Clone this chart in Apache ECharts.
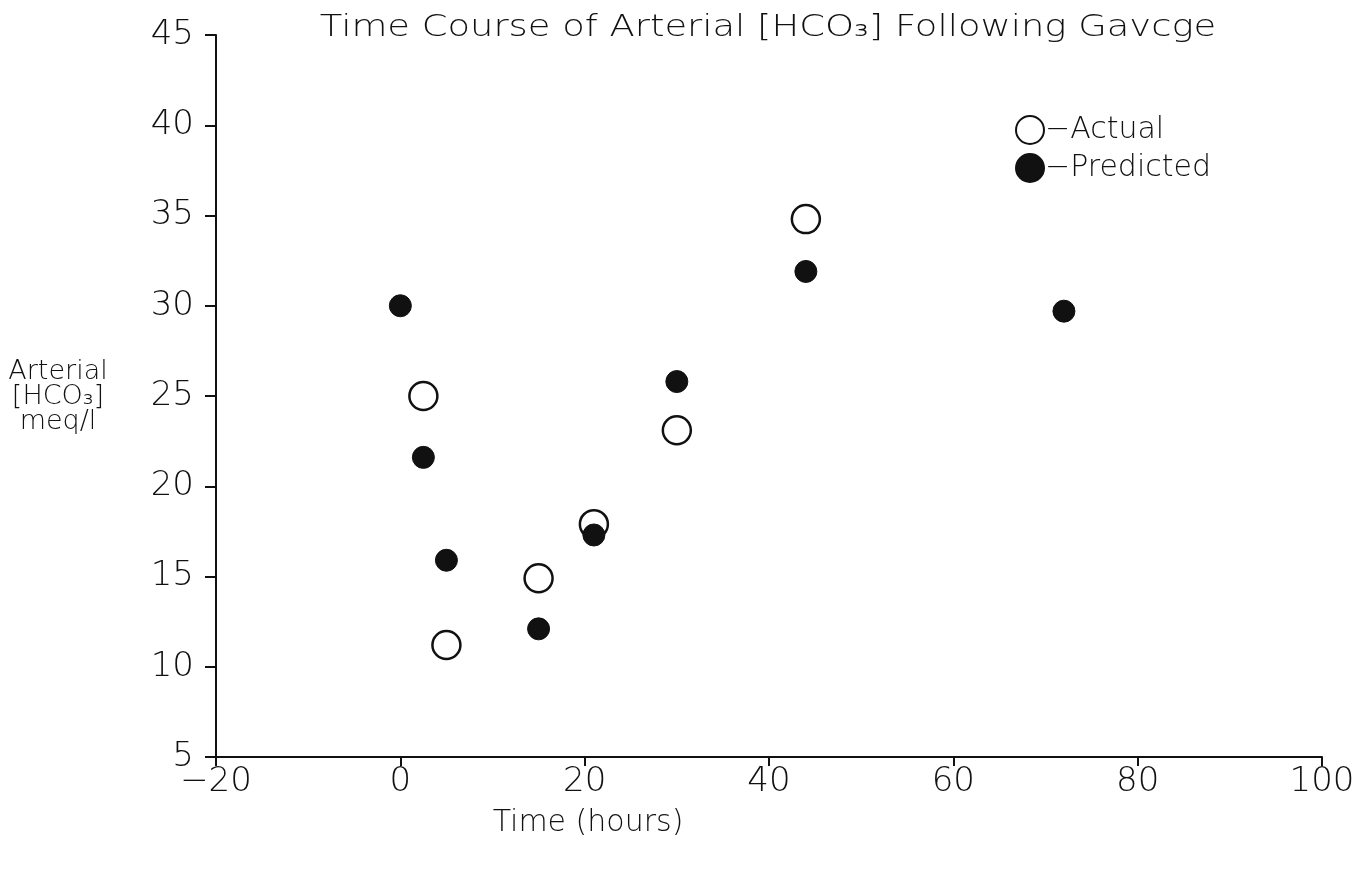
<!DOCTYPE html>
<html>
<head>
<meta charset="utf-8">
<script src="https://cdn.jsdelivr.net/npm/echarts@6/dist/echarts.min.js"></script>
<style>
  html, body { margin: 0; padding: 0; background: #fff; }
  #chart { width: 1371px; height: 871px; }
</style>
</head>
<body>
<div id="chart"></div>
<script>
// values
var timeActual = [2.5, 5, 15, 21, 30, 44];
var hco3Actual = [25, 11.2, 14.9, 17.9, 23.1, 34.8];
var timePredicted = [0, 2.5, 5, 15, 21, 30, 44, 72];
var hco3Predicted = [30, 21.6, 15.9, 12.1, 17.3, 25.8, 31.9, 29.7];

var font = 'DejaVu Sans';
var ink = '#111';

function pairs(xs, ys) {
    return xs.map(function(x, i) { return [x, ys[i]]; });
}

var chart = echarts.init(document.getElementById('chart'));
var lineStyle = { color: ink, width: 2 };

chart.setOption({
    animation: false,
    backgroundColor: '#fff',
    grid: { left: 216, right: 49, top: 35, bottom: 114 },
    legend: {
        orient: 'vertical',
        left: 1010, top: 110,
        itemWidth: 28, itemHeight: 28, itemGap: 8,
        formatter: function(name) { return '−' + name; },
        textStyle: { fontFamily: font, fontWeight: 200, fontSize: 30, color: ink, padding: [0, 0, 0, -4] },
        data: ['Actual', 'Predicted']
    },
    xAxis: {
        type: 'value', min: -20, max: 100, interval: 20,
        splitLine: { show: false },
        axisLine: { onZero: false, lineStyle: lineStyle },
        axisTick: { length: 9, lineStyle: lineStyle },
        axisLabel: { margin: 8, fontFamily: font, fontWeight: 200, fontSize: 34, color: ink,
            formatter: function(v) { return v < 0 ? '−' + (-v) : v; } }
    },
    yAxis: {
        type: 'value', min: 5, max: 45, interval: 5,
        splitLine: { show: false },
        axisLine: { onZero: false, lineStyle: lineStyle },
        axisTick: { length: 11, lineStyle: lineStyle },
        axisLabel: { margin: 22, fontFamily: font, fontWeight: 200, fontSize: 34, color: ink }
    },
    graphic: [
        {
            type: 'text', x: 768, y: 28, scaleX: 1.19,
            style: {
                text: 'Time Course of Arterial [HCO₃] Following Gavcge',
                align: 'center', verticalAlign: 'middle',
                fontFamily: font, fontWeight: 200, fontSize: 31, fill: ink
            }
        },
        {
            type: 'text', x: 58, y: 359,
            style: {
                text: 'Arterial\n[HCO₃]\nmeq/l',
                align: 'center', verticalAlign: 'top',
                fontFamily: font, fontWeight: 200, fontSize: 27, lineHeight: 25, fill: ink
            }
        },
        {
            type: 'text', x: 588, y: 823,
            style: {
                text: 'Time (hours)',
                align: 'center', verticalAlign: 'middle',
                fontFamily: font, fontWeight: 200, fontSize: 30, fill: ink
            }
        }
    ],
    series: [
        {
            name: 'Actual',
            type: 'scatter',
            symbol: 'circle',
            symbolSize: 28,
            itemStyle: { color: '#fff', borderColor: ink, borderWidth: 2.5, opacity: 1 },
            data: pairs(timeActual, hco3Actual),
            z: 2
        },
        {
            name: 'Predicted',
            type: 'scatter',
            symbol: 'circle',
            symbolSize: 22,
            itemStyle: { color: ink, borderColor: ink, borderWidth: 1, opacity: 1 },
            data: pairs(timePredicted, hco3Predicted),
            z: 3
        }
    ]
});
</script>
</body>
</html>
